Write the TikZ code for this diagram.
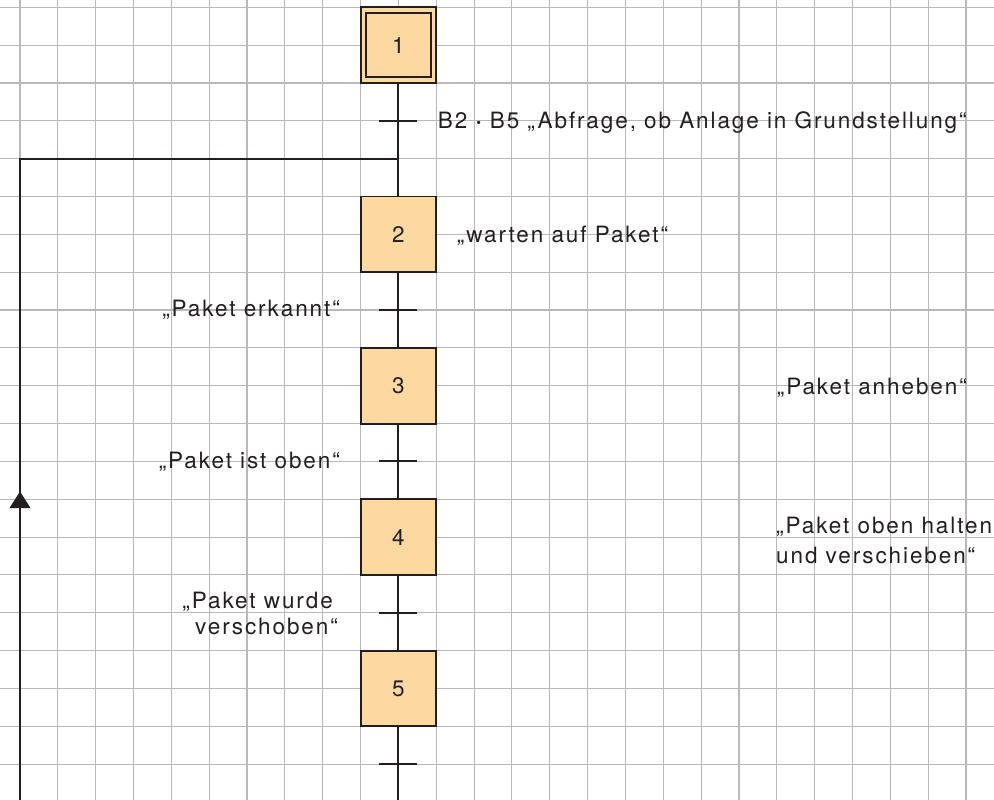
\documentclass[tikz,border=0pt]{standalone}
\usepackage{fontspec}
\setmainfont{TeX Gyre Heros}[LetterSpace=8.5]
\definecolor{boxfill}{RGB}{253,216,160}
\definecolor{linecol}{RGB}{35,31,32}
\definecolor{gridgray}{RGB}{185,185,188}
\begin{document}
\begin{tikzpicture}[x=1pt,y=-1pt,
  gridline/.style={draw=gridgray,line width=1.1pt},
  stepbox/.style={draw=linecol,fill=boxfill,line width=1.9pt,minimum size=75.7pt,inner sep=0pt,font=\fontsize{22.5}{26}\selectfont,text=linecol},
  flow/.style={draw=linecol,line width=1.9pt,line join=miter},
  lbl/.style={inner sep=0pt,font=\fontsize{22.5}{26}\selectfont,text=linecol}]
\useasboundingbox (0,0) rectangle (994,800);
\fill[white] (0,0) rectangle (994,800);
% grid
\foreach \k in {0,...,25} \draw[gridline] ({20+37.84*\k},0) -- ({20+37.84*\k},800);
\foreach \k in {0,...,20} \draw[gridline] (0,{7.3+37.84*\k}) -- (994,{7.3+37.84*\k});
% transition points and junctions
\coordinate (t1) at (398.4,120.8);
\coordinate (j) at (398.4,158.7);
\coordinate (t2) at (398.4,310.0);
\coordinate (t3) at (398.4,461.4);
\coordinate (t4) at (398.4,612.7);
\coordinate (t5) at (398.4,764.1);
\coordinate (end) at (398.4,800);
\coordinate (fb) at (20,158.7);
\coordinate (bot) at (20,800);
\coordinate (arr) at (20,499.5);
% steps
\node[stepbox] (s1) at (398.4,45.1) {1};
\draw[flow] ([shift={(6.5,6.5)}]s1.north west) rectangle ([shift={(-6.5,-6.5)}]s1.south east);
\node[stepbox] (s2) at (398.4,234.3) {2};
\node[stepbox] (s3) at (398.4,385.7) {3};
\node[stepbox] (s4) at (398.4,537.1) {4};
\node[stepbox] (s5) at (398.4,688.4) {5};
% main flow
\draw[flow] (s1.south) -- (s2.north);
\draw[flow] (s2.south) -- (s3.north);
\draw[flow] (s3.south) -- (s4.north);
\draw[flow] (s4.south) -- (s5.north);
\draw[flow] (s5.south) -- (end);
% feedback
\draw[flow] (bot) -- (fb) -- (j);
\fill[linecol] ([shift={(0,-8)}]arr) -- ([shift={(10.5,8.5)}]arr) -- ([shift={(-10.5,8.5)}]arr) -- cycle;
% transitions
\foreach \t in {t1,t2,t3,t4,t5}
  \draw[flow] ([xshift=-19pt]\t) -- ([xshift=19pt]\t);
% labels
\node[lbl,anchor=base west] (l1) at (437.7,128.5) {B2 {\bfseries·} B5 „Abfrage, ob Anlage in Grundstellung“};
\node[lbl,anchor=base west] (l2) at (456.7,242.5) {„warten auf Paket“};
\node[lbl,anchor=base east] (l3) at (340,316) {„Paket erkannt“};
\node[lbl,anchor=base west] (l4) at (776.7,394) {„Paket anheben“};
\node[lbl,anchor=base east] (l5) at (340,468.5) {„Paket ist oben“};
\node[lbl,anchor=base west] (l6a) at (776,533) {„Paket oben halten};
\node[lbl,anchor=base west] (l6b) at (776,563) {und verschieben“};
\node[lbl,anchor=base east] (l7a) at (333,608.3) {„Paket wurde};
\node[lbl,anchor=base east] (l7b) at (338,634) {verschoben“};
\end{tikzpicture}
\end{document}
